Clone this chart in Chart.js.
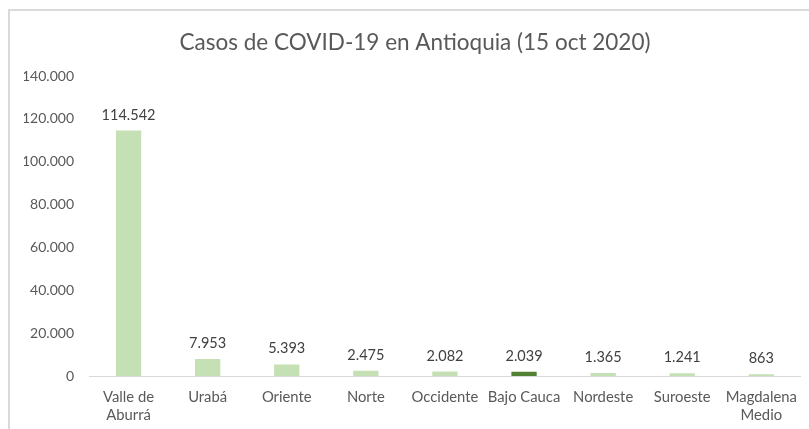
<!DOCTYPE html>
<html>
<head>
<meta charset="utf-8">
<script src="https://cdn.jsdelivr.net/npm/chart.js@4.4.1/dist/chart.umd.min.js"></script>
<style>
  html, body { margin: 0; padding: 0; background: #ffffff; }
  #wrap { position: relative; width: 809px; height: 429px; overflow: hidden; }
  #frame { position: absolute; left: 8px; top: 9px; width: 900px; height: 500px;
           border-left: 2px solid #d9d9d9; border-top: 2px solid #d9d9d9; }
  canvas { position: absolute; left: 0; top: 0; }
</style>
</head>
<body>
<div id="wrap">
  <div id="frame"></div>
  <canvas id="c" width="809" height="429"></canvas>
</div>
<script>
const categories = [["Valle de", "Aburrá"], "Urabá", "Oriente", "Norte", "Occidente", "Bajo Cauca", "Nordeste", "Suroeste", ["Magdalena", "Medio"]];
const cases = [114542, 7953, 5393, 2475, 2082, 2039, 1365, 1241, 863];
const barColors = ["#c5e0b4", "#c5e0b4", "#c5e0b4", "#c5e0b4", "#c5e0b4", "#548235", "#c5e0b4", "#c5e0b4", "#c5e0b4"];
const yTicks = { min: 0, max: 140000, step: 20000 };

function fmt(v) {
  return String(Math.round(v)).replace(/\B(?=(\d{3})+(?!\d))/g, ".");
}

const FONT = "Lato, 'Open Sans', sans-serif";

const dataLabels = {
  id: "dataLabels",
  afterDatasetsDraw(chart) {
    const ctx = chart.ctx;
    const meta = chart.getDatasetMeta(0);
    ctx.save();
    ctx.font = "14.5px " + FONT;
    ctx.fillStyle = "#404040";
    ctx.textAlign = "center";
    ctx.textBaseline = "alphabetic";
    meta.data.forEach((bar, i) => {
      ctx.fillText(fmt(chart.data.datasets[0].data[i]), bar.x, bar.y - 11);
    });
    ctx.restore();
  }
};

new Chart(document.getElementById("c"), {
  type: "bar",
  data: {
    labels: categories,
    datasets: [{
      data: cases,
      backgroundColor: barColors,
      borderWidth: 0,
      categoryPercentage: 1,
      barPercentage: 0.32
    }]
  },
  options: {
    responsive: false,
    animation: false,
    layout: { padding: { left: 24, right: 3, top: 0, bottom: 0 } },
    plugins: {
      legend: { display: false },
      tooltip: { enabled: false },
      title: {
        display: true,
        text: "Casos de COVID-19 en Antioquia (15 oct 2020)",
        color: "#595959",
        font: { family: FONT, size: 22.5, weight: "normal" },
        padding: { top: 29.5, bottom: 19.5 }
      }
    },
    scales: {
      x: {
        grid: { display: false, drawTicks: false },
        border: { display: true, color: "#d9d9d9", width: 1 },
        ticks: {
          color: "#595959",
          font: { family: FONT, size: 14.8, lineHeight: 1.23 },
          padding: 12,
          maxRotation: 0,
          autoSkip: false
        },
        afterFit: (s) => { s.height = 53; }
      },
      y: {
        min: yTicks.min,
        max: yTicks.max,
        grid: { display: false, drawTicks: false },
        border: { display: false },
        ticks: {
          stepSize: yTicks.step,
          color: "#595959",
          font: { family: FONT, size: 14 },
          padding: 15,
          callback: (v) => fmt(v)
        },
        afterFit: (s) => { s.width = 65; }
      }
    }
  },
  plugins: [dataLabels]
});
</script>
</body>
</html>
